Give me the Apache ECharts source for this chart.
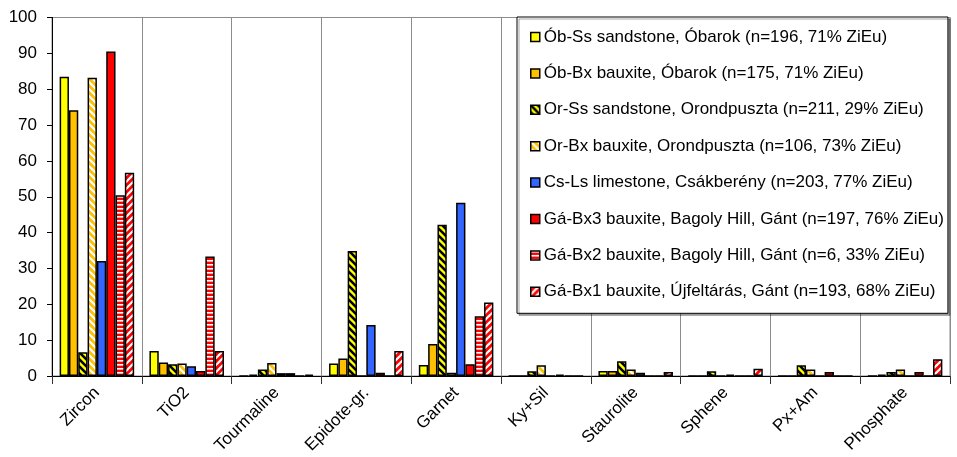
<!DOCTYPE html>
<html>
<head>
<meta charset="utf-8">
<script src="https://cdn.jsdelivr.net/npm/echarts@6/dist/echarts.min.js"></script>
<style>
  html, body { margin: 0; padding: 0; background: #fff; }
  #chart { width: 957px; height: 457px; }
</style>
</head>
<body>
<div id="chart"></div>
<script>
// Heavy-mineral categories
const categories = ['Zircon', 'TiO2', 'Tourmaline', 'Epidote-gr.', 'Garnet', 'Ky+Sil', 'Staurolite', 'Sphene', 'Px+Am', 'Phosphate'];

// Sample names (legend)
const sampleNames = [
  'Ób-Ss sandstone, Óbarok (n=196, 71% ZiEu)',
  'Ób-Bx bauxite, Óbarok (n=175, 71% ZiEu)',
  'Or-Ss sandstone, Orondpuszta (n=211, 29% ZiEu)',
  'Or-Bx bauxite, Orondpuszta (n=106, 73% ZiEu)',
  'Cs-Ls limestone, Csákberény (n=203, 77% ZiEu)',
  'Gá-Bx3 bauxite, Bagoly Hill, Gánt (n=197, 76% ZiEu)',
  'Gá-Bx2 bauxite, Bagoly Hill, Gánt (n=6, 33% ZiEu)',
  'Gá-Bx1 bauxite, Újfeltárás, Gánt (n=193, 68% ZiEu)'
];

// Percentages per category, one array per sample
const obSs  = [83.5, 7.0, 0,   3.5,  3.1,  0,   1.4, 0,   0,   0];
const obBx  = [74.1, 3.8, 0.4, 4.9,  8.9,  0,   1.4, 0,   0,   0.4];
const orSs  = [6.6,  3.3, 1.8, 34.9, 42.2, 1.3, 4.1, 1.3, 3.0, 1.1];
const orBx  = [83.2, 3.5, 3.6, 0,    0.9,  3.0, 1.8, 0,   1.8, 1.8];
const csLs  = [32.1, 2.7, 0.8, 14.2, 48.3, 0,   0.9, 0.4, 0,   0];
const gaBx3 = [90.5, 1.4, 0.8, 0.9,  3.3,  0.4, 0,   0,   1.1, 1.1];
const gaBx2 = [50.4, 33.3, 0,  0,    16.7, 0,   0,   0,   0,   0];
const gaBx1 = [56.7, 7.0, 0.4, 7.0,  20.5, 0,   1.1, 2.0, 0,   4.7];

const yTicks = { min: 0, max: 100, interval: 10 };

// Fill patterns built on small canvas tiles
function stripeTile(bg, fg, dir, size, width) {
  const c = document.createElement('canvas');
  c.width = size; c.height = size;
  const g = c.getContext('2d');
  g.fillStyle = bg;
  g.fillRect(0, 0, size, size);
  g.strokeStyle = fg;
  g.lineWidth = width;
  g.lineCap = 'square';
  for (let k = -size; k <= size; k += size) {
    g.beginPath();
    if (dir === 'back') {          // "\" stripes
      g.moveTo(k - 1, -1);
      g.lineTo(k + size + 1, size + 1);
    } else {                       // "/" stripes
      g.moveTo(k - 1, size + 1);
      g.lineTo(k + size + 1, -1);
    }
    g.stroke();
  }
  return { image: c, repeat: 'repeat' };
}
function hStripeTile(bg, fg, period, width) {
  const c = document.createElement('canvas');
  c.width = 4; c.height = period;
  const g = c.getContext('2d');
  g.fillStyle = bg;
  g.fillRect(0, 0, 4, period);
  g.fillStyle = fg;
  g.fillRect(0, 0, 4, width);
  return { image: c, repeat: 'repeat' };
}

const YELLOW = '#FFFF00', ORANGE = '#FFC000', BLUE = '#3366FF', RED = '#FF0000';
const fills = [
  YELLOW,
  ORANGE,
  stripeTile(YELLOW, '#000000', 'back', 7, 2.6),
  stripeTile(ORANGE, '#FFFFFF', 'back', 7, 2.2),
  BLUE,
  RED,
  hStripeTile(RED, '#FFFFFF', 4, 1.6),
  stripeTile(RED, '#FFFFFF', 'fwd', 7, 2.2)
];
const seriesData = [obSs, obBx, orSs, orBx, csLs, gaBx3, gaBx2, gaBx1];

const series = seriesData.map((d, i) => ({
  name: sampleNames[i],
  type: 'bar',
  data: d,
  barGap: '0%',
  barCategoryGap: '17%',
  itemStyle: { color: fills[i], borderColor: '#000', borderWidth: 1.5 }
}));

const chart = echarts.init(document.getElementById('chart'), null, { renderer: 'canvas' });
chart.setOption({
  animation: false,
  backgroundColor: '#fff',
  textStyle: { fontFamily: 'Liberation Sans, Arial, sans-serif' },
  grid: {
    left: 52, right: 7, top: 17.5, bottom: 81,
    show: true, borderColor: '#8c8c8c', borderWidth: 1, backgroundColor: 'transparent'
  },
  legend: {
    orient: 'vertical',
    left: 517, top: 17,
    padding: [10.5, 4, 12, 13],
    itemGap: 17.4,
    itemWidth: 9, itemHeight: 9,
    icon: 'rect',
    backgroundColor: '#fff',
    borderColor: '#000', borderWidth: 1,
    shadowColor: 'rgba(0,0,0,0.35)', shadowOffsetX: 2, shadowOffsetY: 2, shadowBlur: 0,
    itemStyle: { borderColor: '#000', borderWidth: 1.5 },
    textStyle: { fontSize: 17, color: '#000', lineHeight: 19, padding: [0, 0, 0, -1] },
    data: sampleNames
  },
  xAxis: {
    type: 'category',
    data: categories,
    axisLine: { lineStyle: { color: '#000', width: 1 } },
    axisTick: { show: true, length: 8, lineStyle: { color: '#333' } },
    splitLine: { show: true, lineStyle: { color: '#8c8c8c', width: 1 } },
    axisLabel: { rotate: 45, fontSize: 17, color: '#000', margin: 14, interval: 0 }
  },
  yAxis: {
    type: 'value',
    min: yTicks.min, max: yTicks.max, interval: yTicks.interval,
    axisLine: { show: true, lineStyle: { color: '#000', width: 1 } },
    axisTick: { show: true, length: 5, lineStyle: { color: '#000' } },
    splitLine: { show: false },
    axisLabel: { fontSize: 17, color: '#000', margin: 15 }
  },
  series: series
});
</script>
</body>
</html>
